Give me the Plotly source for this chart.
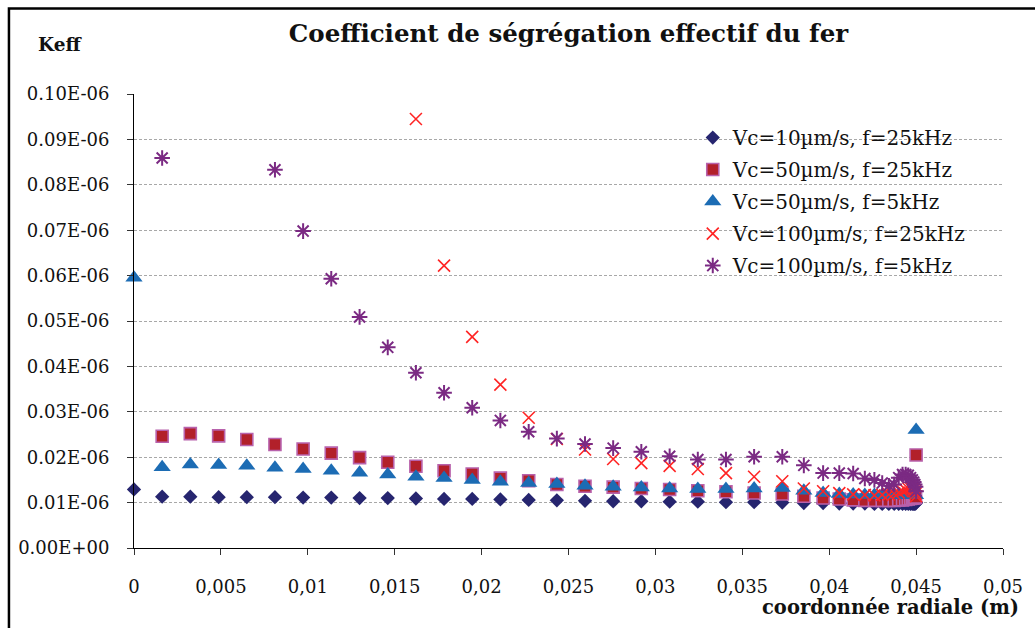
import plotly.graph_objects as go

# Radial positions (m): regular grid, then refined mesh towards the wall
radial_pos = [
    0.0, 0.00162, 0.00324, 0.00487, 0.00649, 0.00811, 0.00973, 0.01135,
    0.01298, 0.0146, 0.01622, 0.01784, 0.01946, 0.02108, 0.02271, 0.02433,
    0.02595, 0.02757, 0.02919, 0.03082, 0.03244, 0.03406, 0.03568, 0.0373,
    0.03854, 0.03965, 0.04058, 0.04138, 0.04205, 0.0426, 0.04305, 0.04343,
    0.04374, 0.044, 0.04422, 0.0444, 0.04455, 0.04468, 0.04478, 0.04486,
    0.04492, 0.04497, 0.045,
]

# Keff values in units of 0.01E-06 (None = outside the displayed range)
keff_vc10_f25 = [
    1.29, 1.13, 1.13, 1.12, 1.12, 1.12, 1.11, 1.11, 1.10, 1.10, 1.09, 1.08,
    1.08, 1.07, 1.06, 1.05, 1.04, 1.03, 1.03, 1.02, 1.02, 1.01, 1.01, 1.00,
    0.99, 0.99, 0.98, 0.98, 0.98, 0.97, 0.97, 0.97, 0.97, 0.97, 0.97, 0.97,
    0.97, 0.97, 0.97, 0.97, 0.97, 0.98, 1.00,
]
keff_vc50_f25 = [
    None, 2.46, 2.52, 2.47, 2.39, 2.28, 2.18, 2.09, 1.99, 1.89, 1.80, 1.70,
    1.63, 1.54, 1.48, 1.40, 1.36, 1.34, 1.31, 1.29, 1.26, 1.24, 1.21, 1.19,
    1.14, 1.10, 1.08, 1.06, 1.05, 1.05, 1.05, 1.05, 1.05, 1.06, 1.06, 1.07,
    1.08, 1.09, 1.10, 1.10, 1.11, 1.12, 2.05,
]
keff_vc50_f5 = [
    5.95, 1.78, 1.84, 1.83, 1.81, 1.77, 1.74, 1.70, 1.66, 1.62, 1.57, 1.54,
    1.50, 1.46, 1.43, 1.41, 1.37, 1.35, 1.33, 1.31, 1.30, 1.30, 1.31, 1.32,
    1.26, 1.21, 1.19, 1.18, 1.17, 1.17, 1.17, 1.17, 1.17, 1.17, 1.17, 1.17,
    1.17, 1.17, 1.16, 1.16, 1.16, 1.16, 2.60,
]
keff_vc100_f25 = [
    None, None, None, None, None, None, None, None, None, None, 9.45, 6.22,
    4.65, 3.60, 2.87, 2.40, 2.17, 1.96, 1.87, 1.81, 1.74, 1.65, 1.57, 1.47,
    1.31, 1.25, 1.21, 1.18, 1.17, 1.16, 1.17, 1.18, 1.20, 1.22, 1.25, 1.28,
    1.31, 1.33, 1.32, 1.29, 1.25, 1.20, 1.14,
]
keff_vc100_f5 = [
    None, 8.59, None, None, None, 8.33, 6.98, 5.93, 5.09, 4.42, 3.86, 3.42,
    3.09, 2.81, 2.56, 2.41, 2.29, 2.20, 2.12, 2.02, 1.95, 1.95, 2.01, 2.01,
    1.82, 1.65, 1.65, 1.64, 1.53, 1.50, 1.43, 1.37, 1.40, 1.55, 1.62, 1.62,
    1.60, 1.55, 1.50, 1.45, 1.40, 1.35, 1.25,
]

y_ticks = [0, 1, 2, 3, 4, 5, 6, 7, 8, 9, 10]
y_tick_text = ["0.00E+00", "0.01E-06", "0.02E-06", "0.03E-06", "0.04E-06",
               "0.05E-06", "0.06E-06", "0.07E-06", "0.08E-06", "0.09E-06",
               "0.10E-06"]
UNIT = 1e-8

SERIF = "DejaVu Serif"


def scaled(values):
    return [None if v is None else v * UNIT for v in values]


series = [
    ("Vc=10µm/s, f=25kHz", keff_vc10_f25,
     dict(symbol="diamond", size=11, color="#26256F")),
    ("Vc=50µm/s, f=25kHz", keff_vc50_f25,
     dict(symbol="square", size=12, color="#B2202A",
          line=dict(color="#B862AC", width=1.6))),
    ("Vc=50µm/s, f=5kHz", keff_vc50_f5,
     dict(symbol="triangle-up", size=15, color="#1C6CB4")),
    ("Vc=100µm/s, f=25kHz", keff_vc100_f25,
     dict(symbol="x-thin-open", size=12, color="#FF2424",
          line=dict(color="#FF2424", width=1.6))),
    ("Vc=100µm/s, f=5kHz", keff_vc100_f5,
     dict(symbol="asterisk-open", size=13, color="#7B2A83",
          line=dict(color="#7B2A83", width=2))),
]

fig = go.Figure()
for i, (name, values, marker) in enumerate(series):
    fig.add_trace(go.Scatter(
        x=radial_pos, y=scaled(values), mode="markers", name=name,
        marker=marker, legendgroup=f"g{i}", cliponaxis=False,
    ))

grid_style = dict(showgrid=True, gridcolor="#A8A8A8", gridwidth=1,
                  griddash="3px,2px")

fig.update_layout(
    width=1035, height=628,
    margin=dict(l=134, r=29, t=94, b=80),
    paper_bgcolor="white", plot_bgcolor="white",
    separators=", ",
    font=dict(family=SERIF, size=18, color="#111111"),
    title=dict(text="<b>Coefficient de ségrégation effectif du fer</b>",
               x=0.5, xref="paper", xanchor="center",
               y=1 - 33 / 628, yref="container", yanchor="middle",
               font=dict(family=SERIF, size=24.5, color="#111111")),
    xaxis=dict(range=[0, 0.05], dtick=0.005, tick0=0,
               showline=True, linecolor="black", linewidth=1,
               ticks="outside", ticklen=6, tickcolor="#333333",
               ticklabelstandoff=16, showgrid=False, zeroline=False),
    yaxis=dict(range=[0, 10 * UNIT], tickmode="array",
               tickvals=[t * UNIT for t in y_ticks], ticktext=y_tick_text,
               showline=True, linecolor="black", linewidth=1,
               ticks="outside", ticklen=6, tickcolor="#333333",
               ticklabelstandoff=14, zeroline=False, **grid_style),
    legend=dict(x=0.643, y=0.947, xanchor="left", yanchor="top",
                bgcolor="rgba(0,0,0,0)", traceorder="grouped",
                tracegroupgap=3,
                font=dict(family=SERIF, size=20, color="#111111")),
    annotations=[
        dict(text="<b>Keff</b>", x=-0.085, y=1.108, xref="paper",
             yref="paper", xanchor="center", yanchor="middle",
             showarrow=False, font=dict(family=SERIF, size=18.5)),
        dict(text="<b>coordonnée radiale (m)</b>", x=1.0206, y=-0.132,
             xref="paper", yref="paper", xanchor="right", yanchor="middle",
             showarrow=False, font=dict(family=SERIF, size=19.5)),
    ],
    shapes=[
        dict(type="rect", xref="paper", yref="paper",
             x0=-0.1439, x1=1.045, y0=-0.25, y1=1.1883,
             line=dict(color="black", width=2.5), layer="above"),
    ],
)

fig.write_html("out.html")
